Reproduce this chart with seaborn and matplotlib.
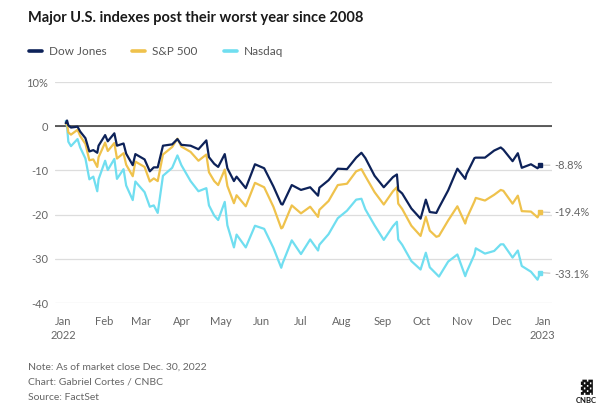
import pandas as pd
import seaborn as sns
import matplotlib.pyplot as plt

# % change since the end of 2021, closes (roughly twice a week)
dates = ['2022-01-03', '2022-01-04', '2022-01-05', '2022-01-07', '2022-01-12', '2022-01-14',
         '2022-01-18', '2022-01-21', '2022-01-24', '2022-01-27', '2022-01-28', '2022-02-02',
         '2022-02-04', '2022-02-09', '2022-02-11', '2022-02-16', '2022-02-18', '2022-02-23',
         '2022-02-25', '2022-03-04', '2022-03-08', '2022-03-11', '2022-03-14', '2022-03-18',
         '2022-03-25', '2022-03-29', '2022-04-01', '2022-04-08', '2022-04-14', '2022-04-20',
         '2022-04-22', '2022-04-26', '2022-04-29', '2022-05-04', '2022-05-06', '2022-05-11',
         '2022-05-13', '2022-05-20', '2022-05-27', '2022-06-03', '2022-06-10', '2022-06-16',
         '2022-06-17', '2022-06-24', '2022-07-01', '2022-07-08', '2022-07-14', '2022-07-15',
         '2022-07-22', '2022-07-29', '2022-08-05', '2022-08-12', '2022-08-16', '2022-08-19',
         '2022-08-26', '2022-09-02', '2022-09-09', '2022-09-12', '2022-09-13', '2022-09-16',
         '2022-09-23', '2022-09-30', '2022-10-04', '2022-10-07', '2022-10-12', '2022-10-14',
         '2022-10-21', '2022-10-28', '2022-11-03', '2022-11-04', '2022-11-10', '2022-11-11',
         '2022-11-18', '2022-11-25', '2022-11-30', '2022-12-02', '2022-12-09', '2022-12-13',
         '2022-12-16', '2022-12-23', '2022-12-28', '2022-12-30']

dow = [0.7, 1.3, 0.2, -0.3, -0.1, -1.2,
       -2.7, -5.7, -5.4, -6.0, -4.4, -2.0,
       -3.4, -1.6, -4.4, -3.9, -6.2, -8.8,
       -6.3, -7.5, -10.2, -9.3, -9.3, -4.4,
       -4.1, -2.9, -4.2, -4.4, -5.2, -3.2,
       -7.0, -8.5, -9.2, -6.3, -9.5, -12.4,
       -11.4, -14.0, -8.6, -9.5, -13.6, -17.6,
       -17.7, -13.3, -14.4, -13.8, -15.7, -13.9,
       -12.2, -9.6, -9.7, -7.1, -6.0, -7.2,
       -11.2, -13.8, -11.5, -10.9, -14.4, -15.2,
       -18.6, -20.9, -16.6, -19.4, -19.6, -18.4,
       -14.5, -9.6, -11.9, -10.8, -7.2, -7.1,
       -7.1, -5.5, -4.8, -5.3, -7.9, -6.1,
       -9.4, -8.6, -9.5, -8.8]

sp500 = [0.6, 0.6, -1.4, -1.9, -0.8, -2.2,
         -4.0, -7.7, -7.5, -9.2, -7.0, -3.7,
         -5.6, -3.8, -7.3, -6.1, -8.7, -11.3,
         -8.0, -9.2, -12.5, -11.8, -12.4, -6.4,
         -4.7, -2.8, -4.6, -5.8, -7.8, -6.4,
         -10.4, -12.4, -13.3, -9.8, -13.5, -17.4,
         -15.6, -18.1, -12.8, -13.8, -18.2, -23.1,
         -22.9, -17.9, -19.7, -18.2, -20.5, -18.9,
         -16.9, -13.3, -13.0, -10.2, -9.7, -11.3,
         -14.9, -17.7, -14.7, -13.8, -17.5, -18.7,
         -22.5, -24.8, -20.5, -23.6, -25.0, -24.8,
         -21.3, -18.1, -22.0, -20.9, -17.0, -16.2,
         -16.8, -15.5, -14.4, -14.6, -17.5, -15.7,
         -19.2, -19.3, -20.6, -19.4]

nasdaq = [1.2, -0.1, -3.5, -4.5, -2.9, -4.8,
          -7.3, -12.0, -11.4, -14.7, -12.0, -7.8,
          -9.9, -7.4, -11.9, -9.7, -13.4, -16.7,
          -12.5, -14.9, -18.2, -17.9, -19.6, -11.2,
          -9.4, -6.6, -8.8, -12.4, -14.7, -14.0,
          -17.9, -20.2, -21.2, -17.1, -22.4, -27.4,
          -24.5, -27.4, -22.5, -23.2, -27.5, -32.0,
          -31.0, -25.8, -28.9, -25.6, -28.1, -26.8,
          -24.4, -20.8, -19.1, -16.6, -16.4, -18.8,
          -22.4, -25.7, -22.6, -21.6, -25.6, -26.8,
          -30.5, -32.4, -28.6, -31.9, -33.4, -34.0,
          -30.6, -29.0, -33.9, -33.0, -29.0, -27.6,
          -28.8, -28.2, -26.7, -26.7, -29.7, -28.1,
          -31.6, -32.9, -34.7, -33.1]

names = ['Dow Jones', 'S&P 500', 'Nasdaq']
colors = ['#0d2259', '#efc24c', '#70def0']
end_labels = ['-8.8%', '-19.4%', '-33.1%']
month_labels = ['Jan\n2022', 'Feb', 'Mar', 'Apr', 'May', 'Jun', 'Jul',
                'Aug', 'Sep', 'Oct', 'Nov', 'Dec', 'Jan\n2023']

df = pd.DataFrame({'date': pd.to_datetime(dates), 'Dow Jones': dow,
                   'S&P 500': sp500, 'Nasdaq': nasdaq})
long = df.melt(id_vars='date', var_name='index', value_name='pct')

sns.set_style('white')
plt.rcParams['font.family'] = ['Lato', 'DejaVu Sans']

fig = plt.figure(figsize=(6, 4.08), dpi=100)
ax = fig.add_axes([0.092, 0.257, 0.828, 0.542])

sns.lineplot(data=long, x='date', y='pct', hue='index', hue_order=names,
             palette=colors, linewidth=1.6, ax=ax)
for i, ln in enumerate(ax.lines[:3]):
    ln.set_zorder(5 - i)

handles, labels = ax.get_legend_handles_labels()
ax.get_legend().remove()
leg = fig.legend(handles, labels, loc='center left', bbox_to_anchor=(0.03, 0.873),
                 ncol=3, frameon=False, handlelength=1.1, columnspacing=2.2,
                 handletextpad=0.6, fontsize=8.5)
for t in leg.get_texts():
    t.set_color('#555555')
for h in leg.get_lines():
    h.set_linewidth(2.6)

ax.set_xlim(pd.Timestamp('2021-12-26'), pd.Timestamp('2023-01-08'))
ax.set_ylim(-40, 10)
ax.set_yticks([10, 0, -10, -20, -30, -40])
ax.set_yticklabels(['10%', '0', '-10', '-20', '-30', '-40'])
ax.grid(axis='y', color='#dddddd', linewidth=0.9)
ax.axhline(0, color='#333333', linewidth=1.1, zorder=2)
for s in ax.spines.values():
    s.set_visible(False)

ticks = pd.date_range('2022-01-01', '2023-01-01', freq='MS')
ax.set_xticks(ticks)
ax.set_xticklabels(month_labels, linespacing=1.35)
ax.tick_params(axis='x', length=5, width=0.8, color='#999999', direction='inout',
               labelsize=8, labelcolor='#666666', pad=7)
ax.tick_params(axis='y', length=0, labelsize=8, labelcolor='#666666', pad=5)
ax.set_xlabel('')
ax.set_ylabel('')

# end-of-year labels with a short leader line
last_date = df['date'].iloc[-1]
label_y = [-8.8, -19.6, -33.5]
for name, text, ty, c in zip(names, end_labels, label_y, colors):
    v = df[name].iloc[-1]
    ax.plot(last_date, v, 's', color=c, markersize=3, zorder=6)
    ax.annotate(text, xy=(last_date, v), xytext=(pd.Timestamp('2023-01-10'), ty),
                fontsize=8, color='#666666', va='center', ha='left',
                annotation_clip=False,
                arrowprops=dict(arrowstyle='-', color='#bbbbbb', lw=0.7,
                                shrinkA=1, shrinkB=1))

fig.text(0.047, 0.955, 'Major U.S. indexes post their worst year since 2008',
         fontsize=10.5, fontweight='bold', color='#1a1a1a', va='center')
fig.text(0.047, 0.1, 'Note: As of market close Dec. 30, 2022', fontsize=7.5,
         color='#666666', va='center')
fig.text(0.047, 0.063, 'Chart: Gabriel Cortes / CNBC', fontsize=7.5,
         color='#666666', va='center')
fig.text(0.047, 0.025, 'Source: FactSet', fontsize=7.5, color='#666666', va='center')
fig.text(0.977, 0.018, 'CNBC', fontsize=5.5, fontweight='bold', color='#111111',
         ha='center', va='center')
fig.text(0.977, 0.05, '\u2593', fontsize=11, color='#111111', ha='center', va='center')

fig.savefig('out.png', dpi=100)
